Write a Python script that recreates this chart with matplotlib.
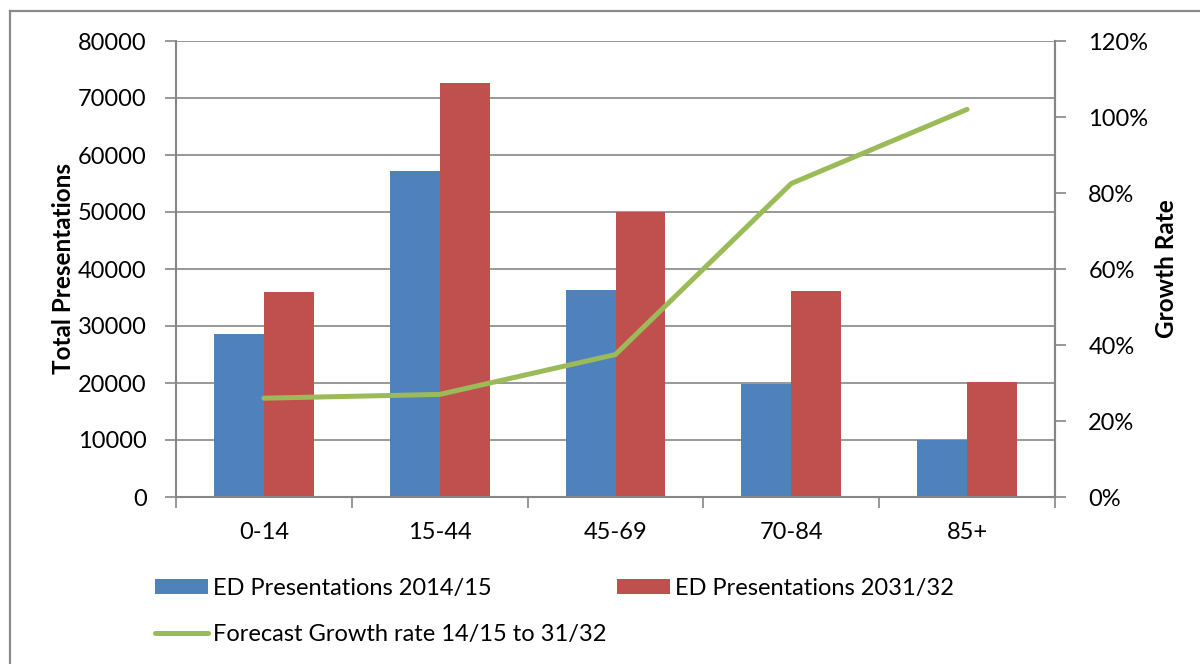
import matplotlib
matplotlib.use("Agg")
import matplotlib.pyplot as plt
import numpy as np
from matplotlib.lines import Line2D
from matplotlib.patches import Patch
from matplotlib.ticker import FuncFormatter

plt.rcParams['font.family'] = ['Lato', 'DejaVu Sans']

age_groups = ["0-14", "15-44", "45-69", "70-84", "85+"]
presentations_2014 = [28600, 57200, 36400, 19800, 10000]
presentations_2031 = [36000, 72600, 50000, 36100, 20100]
growth_rate = [0.26, 0.27, 0.375, 0.825, 1.02]

series_labels = ["ED Presentations 2014/15", "ED Presentations 2031/32",
                 "Forecast Growth rate 14/15 to 31/32"]

blue = "#4F81BD"
red = "#C0504D"
green = "#9BBB59"
grid_gray = "#868686"
fs = 17
label_fs = 17.5

fig = plt.figure(figsize=(12, 6.64), dpi=100)
ax = fig.add_axes([176 / 1200, 1 - 497 / 664, (1055 - 176) / 1200, (497 - 41) / 664])

x = np.arange(len(age_groups))
bw = 0.284
ax.bar(x - bw / 2, presentations_2014, bw, color=blue, zorder=2)
ax.bar(x + bw / 2, presentations_2031, bw, color=red, zorder=2)

ax.set_xlim(-0.5, len(age_groups) - 0.5)
ax.set_ylim(0, 80000)
ax.set_yticks(np.arange(0, 80001, 10000))
ax.yaxis.grid(True, color=grid_gray, linewidth=1.2, zorder=0)
ax.set_axisbelow(True)

ax.set_xticks(x)
ax.set_xticklabels(age_groups, fontsize=fs)
ax.set_xticks(np.arange(-0.5, len(age_groups)), minor=True)
ax.tick_params(axis='x', which='major', length=0, pad=18)
ax.tick_params(axis='x', which='minor', length=8, width=1.2, color=grid_gray, direction='out')
ax.tick_params(axis='y', length=8, width=1.2, color=grid_gray, direction='out',
               labelsize=fs, pad=13)

for side in ['left', 'bottom', 'right']:
    ax.spines[side].set_color(grid_gray)
    ax.spines[side].set_linewidth(1.5)
ax.spines['top'].set_visible(False)

ax.set_ylabel("Total Presentations", fontsize=label_fs, fontweight='bold', labelpad=2)

ax2 = ax.twinx()
ax2.plot(x, growth_rate, color=green, linewidth=3.6, solid_capstyle='round', zorder=3)
ax2.set_ylim(0, 1.2)
ax2.set_yticks(np.arange(0, 1.21, 0.2))
ax2.yaxis.set_major_formatter(FuncFormatter(lambda v, p: f"{v * 100:.0f}%"))
ax2.tick_params(axis='y', length=8, width=1.2, color=grid_gray, direction='out',
                labelsize=fs, pad=16)
for side in ['left', 'top', 'bottom']:
    ax2.spines[side].set_visible(False)
ax2.spines['right'].set_color(grid_gray)
ax2.spines['right'].set_linewidth(1.5)
ax2.set_ylabel("Growth Rate", fontsize=label_fs, fontweight='bold', labelpad=5)

# legend: two bar entries on the first row, growth line on the second
legend_kw = dict(frameon=False, fontsize=fs, handlelength=2.25, handleheight=0.62,
                 handletextpad=0.22, borderpad=0, borderaxespad=0, loc='center left')
leg1 = fig.legend([Patch(facecolor=blue), Patch(facecolor=red)],
                  [series_labels[0], series_labels[1]], ncol=2, columnspacing=5.3,
                  bbox_to_anchor=(155 / 1200, 1 - 588 / 664), **legend_kw)
leg2 = fig.legend([Line2D([], [], color=green, linewidth=3.6, solid_capstyle='round')],
                  [series_labels[2]], bbox_to_anchor=(155 / 1200, 1 - 634 / 664), **legend_kw)

# outer frame
fig.add_artist(Line2D([10 / 1200, 1], [1 - 11 / 664, 1 - 11 / 664], transform=fig.transFigure,
                      color="#8a8a8a", linewidth=1.6))
fig.add_artist(Line2D([10 / 1200, 10 / 1200], [0, 1 - 11 / 664], transform=fig.transFigure,
                      color="#8a8a8a", linewidth=1.6))

fig.savefig("out.png", dpi=100)
